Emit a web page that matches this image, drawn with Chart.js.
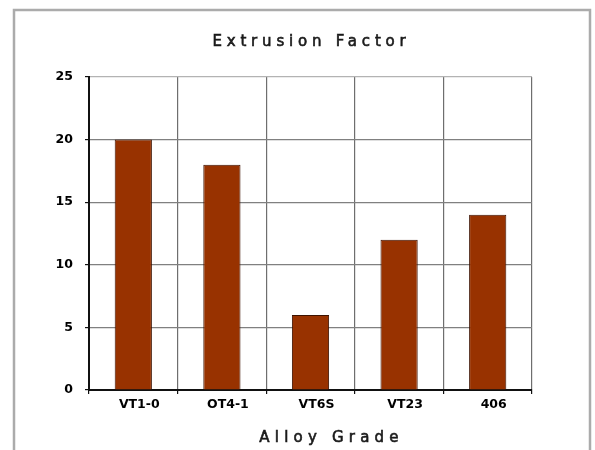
<!DOCTYPE html>
<html>
<head>
<meta charset="utf-8">
<script src="https://cdn.jsdelivr.net/npm/chart.js@4/dist/chart.umd.min.js"></script>
<style>
  html, body { margin: 0; padding: 0; background: #fff; }
  canvas { display: block; background: #fff; }
</style>
</head>
<body>
<canvas id="c" width="595" height="450"></canvas>
<script>
// Alloy grades and their extrusion factors
const alloyGrades = ['VT1-0', 'OT4-1', 'VT6S', 'VT23', '406'];
const extrusionFactor = [20, 18, 6, 12, 14];
const yTicks = [0, 5, 10, 15, 20, 25];
const chartTitle = 'Extrusion Factor';
const xAxisTitle = 'Alloy Grade';

// Frame, chart title and axis title drawn with letter spacing
const spacedText = {
  id: 'spacedText',
  beforeDraw(chart) {
    chart.ctx.letterSpacing = '0px';
  },
  afterDraw(chart) {
    const ctx = chart.ctx;
    const area = chart.chartArea;
    const cx = (area.left + area.right) / 2;
    ctx.save();
    ctx.strokeStyle = '#ababab';
    ctx.lineWidth = 2.5;
    ctx.strokeRect(14, 10, 576, 480);

    ctx.fillStyle = '#1a1a1a';
    ctx.strokeStyle = '#1a1a1a';
    ctx.lineWidth = 0.6;
    ctx.textAlign = 'center';
    ctx.textBaseline = 'alphabetic';
    ctx.font = '15px "DejaVu Sans"';

    ctx.letterSpacing = '4.8px';
    ctx.fillText(chartTitle, cx + 1, 46);
    ctx.strokeText(chartTitle, cx + 1, 46);

    ctx.letterSpacing = '5.2px';
    ctx.fillText(xAxisTitle, cx + 21, 442);
    ctx.strokeText(xAxisTitle, cx + 21, 442);
    ctx.restore();
    ctx.letterSpacing = '0px';
  }
};

new Chart(document.getElementById('c'), {
  type: 'bar',
  data: {
    labels: alloyGrades,
    datasets: [{
      data: extrusionFactor,
      backgroundColor: '#983200',
      borderColor: '#3d1200',
      borderWidth: 1,
      barPercentage: 0.42,
      categoryPercentage: 1
    }]
  },
  options: {
    responsive: false,
    animation: false,
    devicePixelRatio: 1,
    layout: { padding: { left: 20, right: 63, top: 77, bottom: 0 } },
    plugins: {
      legend: { display: false },
      title: { display: false },
      tooltip: { enabled: false }
    },
    scales: {
      x: {
        afterFit(s) { s.height = 60; },
        grid: {
          offset: true,
          color: (c) => c.index === alloyGrades.length ? '#bdbdbd' : '#6e6e6e',
          lineWidth: 1.2,
          tickColor: '#111',
          tickLength: 4
        },
        border: { color: '#111', width: 2 },
        ticks: {
          color: '#000',
          font: { family: '"DejaVu Sans"', size: 12.5, weight: 'bold' },
          padding: 3,
          labelOffset: 6,
          maxRotation: 0
        }
      },
      y: {
        min: 0,
        max: 25,
        afterFit(s) { s.width = 69; },
        afterBuildTicks(s) { s.ticks = yTicks.map(v => ({ value: v })); },
        grid: {
          color: (c) => c.tick && c.tick.value === 25 ? '#b3b3b3' : '#808080',
          lineWidth: 1.2,
          tickColor: '#111',
          tickLength: 4
        },
        border: { color: '#111', width: 2 },
        ticks: {
          color: '#000',
          font: { family: '"DejaVu Sans"', size: 12.5, weight: 'bold' },
          padding: 12
        }
      }
    }
  },
  plugins: [spacedText]
});
</script>
</body>
</html>
